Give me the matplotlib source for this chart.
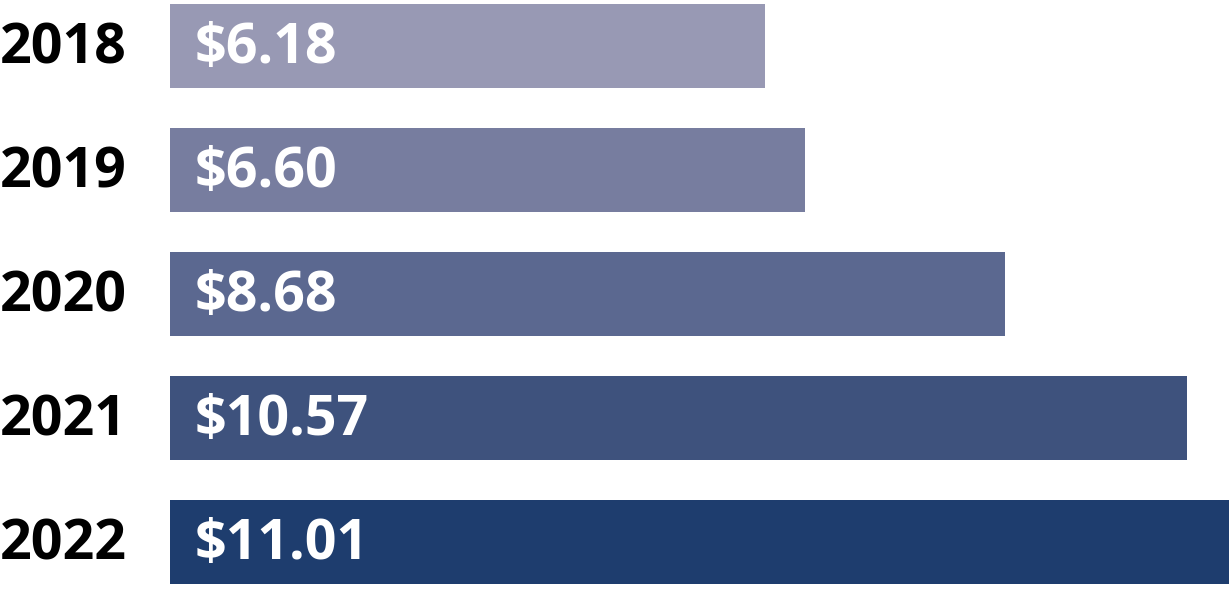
import matplotlib
matplotlib.use("Agg")
import matplotlib.pyplot as plt
from matplotlib.transforms import blended_transform_factory

years = ["2018", "2019", "2020", "2021", "2022"]
values = [6.18, 6.60, 8.68, 10.57, 11.01]
labels = ["$6.18", "$6.60", "$8.68", "$10.57", "$11.01"]
colors = ["#9899B4", "#777D9F", "#5B6890", "#3E527D", "#1E3D6E"]

W, H = 1230, 592
fig = plt.figure(figsize=(W / 100, H / 100), dpi=100)
ax = fig.add_axes([170 / W, 0, 1060 / W, 1])
ypos = list(range(len(years)))
ax.barh(ypos, values, height=0.68, color=colors, edgecolor="none")
ax.set_xlim(0, 1060 / 96.2)
ymin = -46 / 124
ax.set_ylim(ymin + H / 124, ymin)
ax.axis("off")

font = "Open Sans"
trans = blended_transform_factory(fig.transFigure, ax.transData)
dy = -0.03
for y, yr, lab in zip(ypos, years, labels):
    ax.text(0.0, y + dy, yr, transform=trans, ha="left", va="center_baseline",
            fontsize=40, fontweight="bold", color="black", family=font)
    ax.text(25 / 96.2, y + dy, lab, ha="left", va="center_baseline",
            fontsize=40, fontweight="bold", color="white", family=font)

fig.savefig("out.png", dpi=100)
